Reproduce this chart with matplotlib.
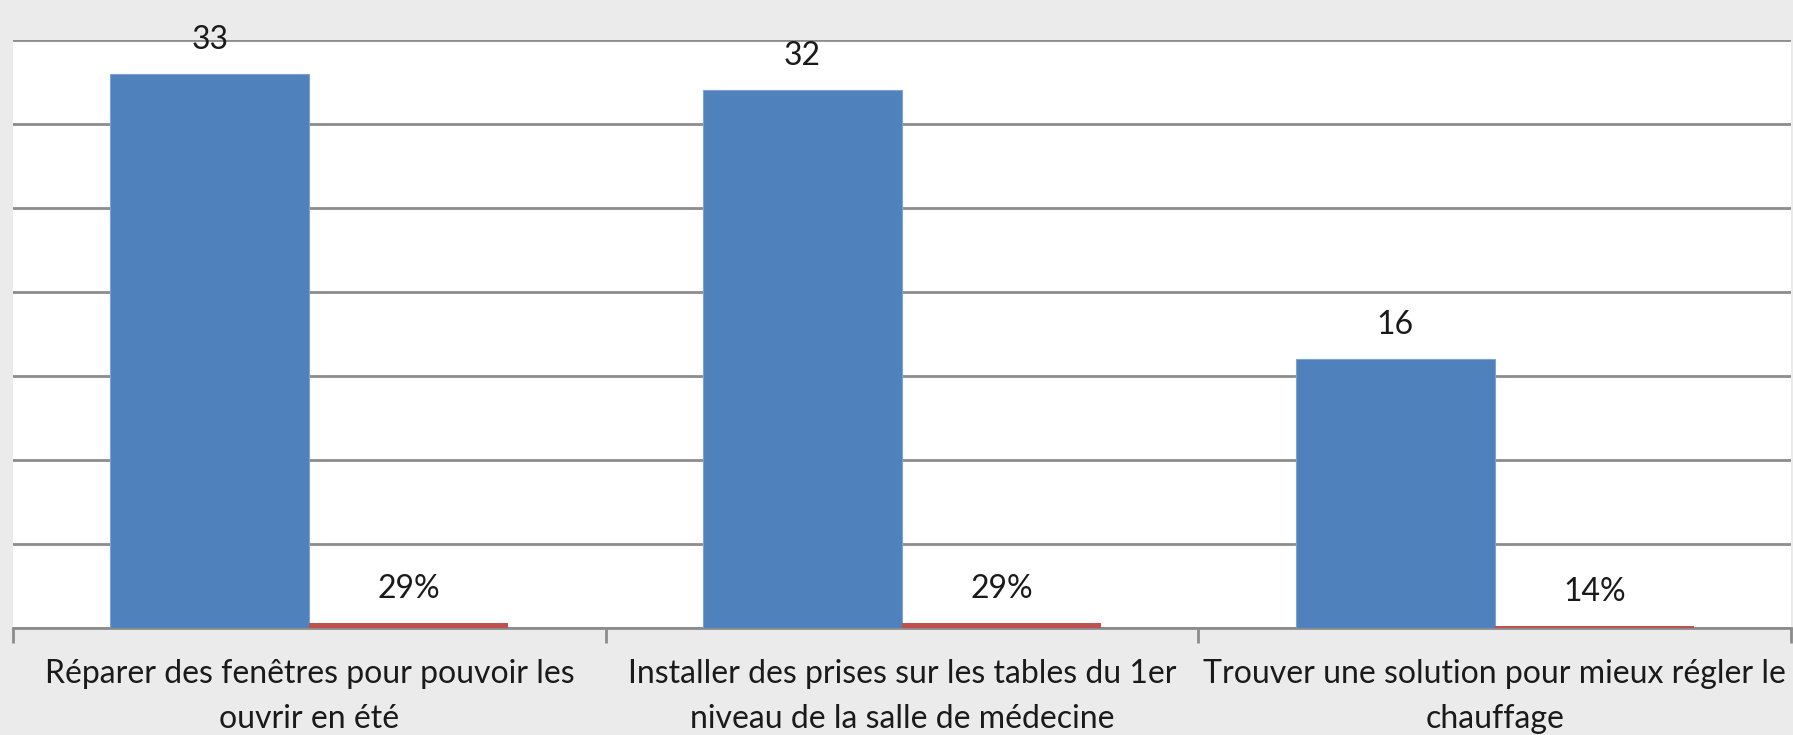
import matplotlib.pyplot as plt
import numpy as np

# donnees
categories = ["Réparer des fenêtres pour pouvoir les\nouvrir en été",
              "Installer des prises sur les tables du 1er\nniveau de la salle de médecine",
              "Trouver une solution pour mieux régler le\nchauffage"]
nombre = [33, 32, 16]
pourcent = [0.29, 0.29, 0.14]

plt.rcParams['font.family'] = ['Lato', 'DejaVu Sans']

fig = plt.figure(figsize=(17.93, 7.35), dpi=100)
fig.patch.set_facecolor('#ebebeb')
ax = fig.add_axes([13/1793, 1 - 628/735, 1778/1793, 588/735])
ax.set_facecolor('white')

x = np.arange(len(categories))
w = 0.336
b1 = ax.bar(x - w/2, nombre, w, color='#4f81bd', edgecolor='#7fa3d0', linewidth=0.8, zorder=3)
b2 = ax.bar(x + w/2, pourcent, w, color='#c0504d', zorder=3)

ax.set_xlim(-0.5, len(categories) - 0.5)
ax.set_ylim(0, 35)
ax.set_yticks(np.arange(0, 36, 5))
ax.yaxis.grid(True, color='#8c8c8c', linewidth=2)
ax.set_axisbelow(True)
ax.tick_params(axis='y', left=False, labelleft=False)

for s in ['top', 'right', 'left']:
    ax.spines[s].set_visible(False)
ax.spines['bottom'].set_color('#8c8c8c')
ax.spines['bottom'].set_linewidth(2)

ax.set_xticks(x)
ax.set_xticklabels(categories, fontsize=23, color='#1a1a1a', linespacing=1.65)
ax.tick_params(axis='x', length=0, pad=22)
ax.set_xticks(np.arange(-0.5, len(categories)), minor=True)
ax.tick_params(axis='x', which='minor', length=11, width=2, color='#8c8c8c')

for r, v in zip(b1, nombre):
    ax.annotate(str(v), (r.get_x() + r.get_width()/2, v), xytext=(0, 24.5),
                textcoords='offset points', ha='center', va='center',
                fontsize=23, color='#1a1a1a', annotation_clip=False, zorder=5)
for r, v in zip(b2, pourcent):
    ax.annotate('{:.0%}'.format(v), (r.get_x() + r.get_width()/2, v), xytext=(0, 24.5),
                textcoords='offset points', ha='center', va='center',
                fontsize=23, color='#1a1a1a', annotation_clip=False, zorder=5)

fig.savefig('out.png', dpi=100, facecolor=fig.get_facecolor())
